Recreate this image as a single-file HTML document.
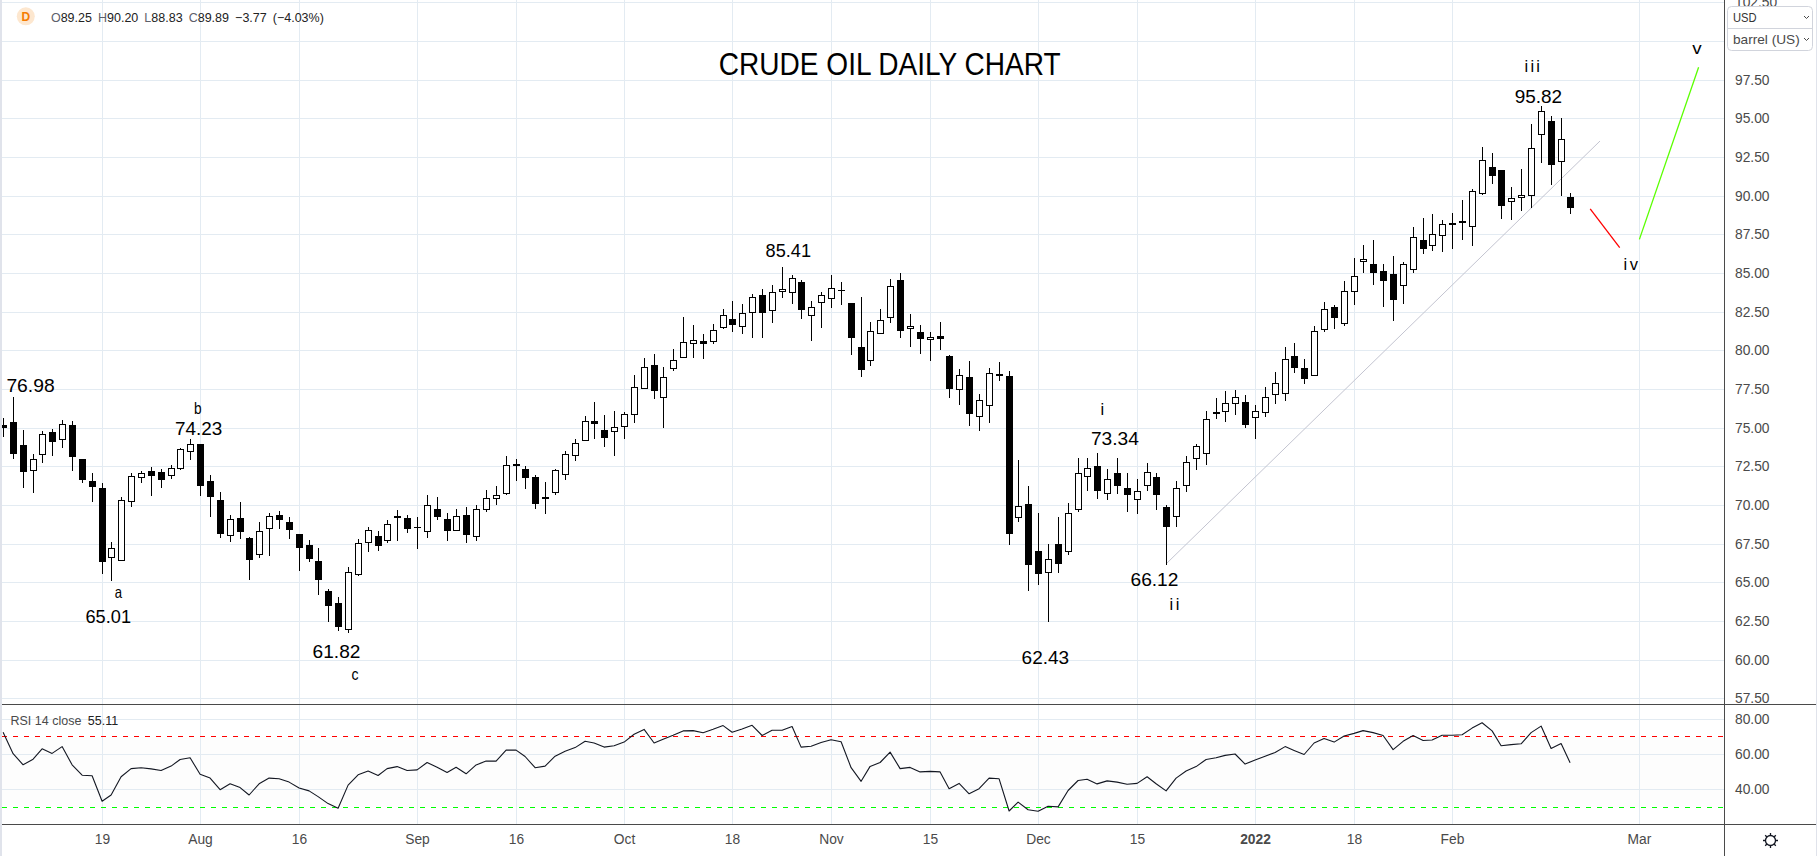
<!DOCTYPE html><html><head><meta charset="utf-8"><style>
html,body{margin:0;padding:0;background:#fff;width:1817px;height:856px;overflow:hidden}
svg{display:block;font-family:"Liberation Sans",sans-serif}
</style></head><body>
<svg width="1817" height="856" viewBox="0 0 1817 856">
<rect x="0" y="0" width="1817" height="856" fill="#fff"/>
<rect x="2" y="737" width="1722" height="70" fill="#fdfdfd"/>
<path d="M102.5 0V824 M200.5 0V824 M299.5 0V824 M417.5 0V824 M516.5 0V824 M624.5 0V824 M732.5 0V824 M831.5 0V824 M930.5 0V824 M1038.5 0V824 M1137.5 0V824 M1255.5 0V824 M1354.5 0V824 M1452.5 0V824 M1639.5 0V824 M2 698.5H1724 M2 660.5H1724 M2 621.5H1724 M2 582.5H1724 M2 544.5H1724 M2 505.5H1724 M2 466.5H1724 M2 428.5H1724 M2 389.5H1724 M2 350.5H1724 M2 312.5H1724 M2 273.5H1724 M2 234.5H1724 M2 196.5H1724 M2 157.5H1724 M2 118.5H1724 M2 80.5H1724 M2 41.5H1724 M2 2.5H1724 M2 719.5H1724 M2 754.5H1724 M2 789.5H1724" stroke="#e3ebf2" stroke-width="1" fill="none" shape-rendering="crispEdges"/>
<path d="M2 736.5H1724" stroke="#ff0000" stroke-width="1" stroke-dasharray="5,6" shape-rendering="crispEdges"/>
<path d="M2 807.5H1724" stroke="#00ff00" stroke-width="1" stroke-dasharray="5,6" shape-rendering="crispEdges"/>
<clipPath id="rc"><rect x="2" y="705" width="1722" height="119"/></clipPath>
<polyline clip-path="url(#rc)" points="3.1,732.2 13.1,753.7 23.1,764.8 33.1,759.2 42.1,748.8 52.1,753.4 62.1,746.6 72.1,764.8 82.1,775.2 92.1,775.7 102.1,801.3 111.1,795.0 121.1,776.8 131.1,768.6 141.1,767.7 151.1,768.9 161.1,770.5 171.1,766.1 180.1,759.5 190.1,757.8 200.1,774.3 210.1,778.1 220.1,789.7 230.1,783.8 240.1,787.6 249.1,795.0 259.1,783.8 269.1,778.1 279.1,778.8 289.1,782.1 299.1,788.0 309.1,790.9 318.1,796.6 328.1,803.6 338.1,808.2 348.1,785.1 358.1,774.8 368.1,771.0 378.1,775.5 387.1,768.6 397.1,766.6 407.1,770.5 417.1,769.9 427.1,762.5 437.1,767.2 447.1,772.4 456.1,767.2 466.1,773.8 476.1,764.9 486.1,761.1 496.1,761.1 506.1,750.1 516.1,750.1 525.1,756.5 535.1,767.7 545.1,766.1 555.1,756.2 565.1,751.2 575.1,747.6 585.1,741.3 594.1,743.0 604.1,747.1 614.1,745.8 624.1,742.1 634.1,734.2 644.1,729.4 654.1,743.0 663.1,739.2 673.1,735.2 683.1,730.9 693.1,730.6 703.1,732.7 713.1,729.3 723.1,725.6 732.1,732.2 742.1,728.9 752.1,725.3 762.1,735.5 772.1,730.3 782.1,730.3 792.1,726.5 801.1,747.1 811.1,746.3 821.1,742.5 831.1,739.7 841.1,741.7 851.1,767.7 861.1,781.3 870.1,766.4 880.1,762.5 890.1,752.1 900.1,768.6 910.1,767.4 920.1,771.9 930.1,771.4 940.1,771.9 949.1,788.7 959.1,783.4 969.1,793.8 979.1,788.7 989.1,778.1 999.1,778.8 1009.1,811.0 1018.1,802.1 1028.1,809.8 1038.1,811.2 1048.1,806.2 1058.1,806.9 1068.1,790.5 1078.1,780.5 1087.1,779.3 1097.1,783.9 1107.1,780.9 1117.1,782.1 1127.1,784.2 1137.1,783.4 1147.1,776.8 1156.1,783.8 1166.1,790.9 1176.1,778.1 1186.1,771.0 1196.1,766.6 1206.1,759.5 1216.1,757.8 1225.1,755.4 1235.1,754.0 1245.1,764.1 1255.1,760.0 1265.1,756.2 1275.1,752.5 1285.1,746.6 1294.1,750.4 1304.1,754.5 1314.1,743.0 1324.1,738.5 1334.1,742.1 1344.1,736.0 1354.1,733.4 1363.1,730.6 1373.1,732.6 1383.1,735.5 1393.1,749.6 1403.1,741.3 1413.1,735.5 1423.1,740.5 1432.1,740.0 1442.1,735.3 1452.1,735.2 1462.1,734.7 1472.1,728.1 1482.1,722.7 1492.1,730.9 1501.1,745.8 1511.1,744.6 1521.1,743.8 1531.1,732.6 1541.1,726.1 1551.1,748.4 1561.1,743.5 1570.1,762.8" fill="none" stroke="#131722" stroke-width="1.1" stroke-linejoin="round"/>
<clipPath id="mc"><rect x="2" y="0" width="1722" height="704"/></clipPath>
<line x1="1166" y1="564" x2="1600" y2="141" stroke="#c3c4d0" stroke-width="1"/>
<g clip-path="url(#mc)" shape-rendering="crispEdges">
<path d="M3.5 418V425 M3.5 428V437 M13.5 397V422 M13.5 454V459 M23.5 430V445 M23.5 472V488 M33.5 454V459 M33.5 471V493 M42.5 431V434 M42.5 455V463 M52.5 429V432 M52.5 442V456 M62.5 420V424 M62.5 440V448 M72.5 421V425 M72.5 457V471 M82.5 480V483 M92.5 473V481 M92.5 487V502 M102.5 483V488 M102.5 562V574 M111.5 542V548 M111.5 558V581 M121.5 497V500 M131.5 473V476 M131.5 502V507 M141.5 471V473 M141.5 478V483 M151.5 467V471 M151.5 476V496 M161.5 469V472 M161.5 480V488 M171.5 465V468 M171.5 476V479 M180.5 448V449 M180.5 469V470 M190.5 439V444 M190.5 452V460 M200.5 486V496 M210.5 475V481 M210.5 497V517 M220.5 492V500 M220.5 534V538 M230.5 515V519 M230.5 536V542 M240.5 502V518 M240.5 532V539 M249.5 537V538 M249.5 560V580 M259.5 522V531 M259.5 555V558 M269.5 513V516 M269.5 529V556 M279.5 511V515 M279.5 520V529 M289.5 517V522 M289.5 530V539 M299.5 548V571 M309.5 540V545 M309.5 559V562 M318.5 548V561 M318.5 580V595 M328.5 589V591 M328.5 606V622 M338.5 597V603 M338.5 627V631 M348.5 567V572 M348.5 630V633 M358.5 539V543 M358.5 575V576 M368.5 527V530 M368.5 543V552 M378.5 531V536 M378.5 546V551 M387.5 520V524 M387.5 541V543 M397.5 510V516 M397.5 518V541 M407.5 515V518 M407.5 529V533 M417.5 517V527 M417.5 528V549 M427.5 495V505 M427.5 532V538 M437.5 497V509 M437.5 517V520 M447.5 513V519 M447.5 531V541 M456.5 509V516 M466.5 507V515 M466.5 535V543 M476.5 505V509 M476.5 537V541 M486.5 490V498 M486.5 510V512 M496.5 486V495 M496.5 499V505 M506.5 456V465 M506.5 494V495 M516.5 459V464 M516.5 466V481 M525.5 466V469 M525.5 478V489 M535.5 475V477 M535.5 504V509 M545.5 482V497 M545.5 499V514 M555.5 469V470 M555.5 493V495 M565.5 451V454 M565.5 475V480 M575.5 439V443 M575.5 456V461 M585.5 416V421 M594.5 402V421 M594.5 424V439 M604.5 415V430 M604.5 438V447 M614.5 411V427 M614.5 432V456 M624.5 412V414 M624.5 427V439 M634.5 375V387 M634.5 415V423 M644.5 358V367 M654.5 354V365 M654.5 391V399 M663.5 367V377 M663.5 398V428 M673.5 349V360 M673.5 369V371 M683.5 317V342 M693.5 325V340 M693.5 344V358 M703.5 334V341 M703.5 344V359 M713.5 324V330 M713.5 342V344 M723.5 309V315 M723.5 328V329 M732.5 301V319 M732.5 325V332 M742.5 304V313 M742.5 327V334 M752.5 294V297 M752.5 313V338 M762.5 289V295 M762.5 313V338 M772.5 285V292 M772.5 311V323 M782.5 267V289 M782.5 292V298 M792.5 275V278 M792.5 293V304 M801.5 280V282 M801.5 310V319 M811.5 301V307 M811.5 316V341 M821.5 292V295 M821.5 303V328 M831.5 275V288 M831.5 299V308 M841.5 282V290 M841.5 291V305 M851.5 338V355 M861.5 297V347 M861.5 370V377 M870.5 322V331 M870.5 361V366 M880.5 309V320 M890.5 279V286 M890.5 318V323 M900.5 273V280 M900.5 331V338 M910.5 314V326 M910.5 329V347 M920.5 325V332 M920.5 339V354 M930.5 332V337 M930.5 340V361 M940.5 322V336 M940.5 339V350 M949.5 355V356 M949.5 389V398 M959.5 369V375 M959.5 390V405 M969.5 361V377 M969.5 414V426 M979.5 394V400 M979.5 417V431 M989.5 368V373 M989.5 406V423 M999.5 362V374 M999.5 376V381 M1009.5 371V376 M1009.5 534V545 M1018.5 460V506 M1018.5 518V522 M1028.5 486V504 M1028.5 565V591 M1038.5 513V551 M1038.5 574V585 M1048.5 544V559 M1048.5 573V622 M1058.5 517V544 M1058.5 564V573 M1068.5 503V513 M1068.5 552V555 M1078.5 458V473 M1078.5 510V512 M1087.5 458V468 M1087.5 477V491 M1097.5 453V466 M1097.5 491V499 M1107.5 469V479 M1107.5 494V500 M1117.5 458V473 M1117.5 486V494 M1127.5 473V488 M1127.5 495V512 M1137.5 479V491 M1137.5 500V514 M1147.5 463V472 M1147.5 486V491 M1156.5 473V477 M1156.5 495V510 M1166.5 505V507 M1166.5 527V565 M1176.5 481V488 M1176.5 517V527 M1186.5 456V462 M1186.5 486V492 M1196.5 444V446 M1196.5 459V470 M1206.5 411V419 M1206.5 454V465 M1216.5 398V412 M1216.5 414V419 M1225.5 391V403 M1225.5 412V422 M1235.5 390V397 M1235.5 404V415 M1245.5 395V402 M1245.5 425V428 M1255.5 405V411 M1255.5 418V439 M1265.5 387V397 M1265.5 413V417 M1275.5 372V383 M1275.5 395V404 M1285.5 347V359 M1285.5 394V401 M1294.5 343V356 M1294.5 368V373 M1304.5 359V368 M1304.5 379V384 M1314.5 326V331 M1324.5 302V309 M1324.5 330V332 M1334.5 305V307 M1334.5 318V329 M1344.5 281V291 M1344.5 324V326 M1354.5 258V276 M1354.5 292V305 M1363.5 245V259 M1363.5 262V273 M1373.5 240V264 M1373.5 273V285 M1383.5 264V271 M1383.5 281V307 M1393.5 256V274 M1393.5 300V321 M1403.5 262V264 M1403.5 286V304 M1413.5 227V237 M1413.5 270V273 M1423.5 218V240 M1423.5 249V254 M1432.5 214V234 M1432.5 246V251 M1442.5 220V224 M1442.5 236V252 M1452.5 213V223 M1452.5 225V249 M1462.5 200V221 M1462.5 223V240 M1472.5 189V191 M1472.5 227V246 M1482.5 147V160 M1482.5 194V195 M1492.5 153V167 M1492.5 176V184 M1501.5 206V219 M1511.5 187V198 M1511.5 202V220 M1521.5 169V195 M1521.5 198V211 M1531.5 124V148 M1531.5 196V208 M1541.5 106V111 M1541.5 135V163 M1551.5 116V121 M1551.5 165V185 M1561.5 118V139 M1561.5 162V196 M1570.5 193V197 M1570.5 208V214" stroke="#000" stroke-width="1" fill="none"/>
<path d="M0 425h7v3h-7z M10 422h7v32h-7z M20 445h7v27h-7z M49 432h7v10h-7z M69 425h7v32h-7z M79 459h7v21h-7z M89 481h7v6h-7z M99 488h7v74h-7z M148 471h7v5h-7z M158 472h7v8h-7z M197 444h7v42h-7z M207 481h7v16h-7z M217 500h7v34h-7z M237 518h7v14h-7z M246 538h7v22h-7z M276 515h7v5h-7z M286 522h7v8h-7z M296 534h7v14h-7z M306 545h7v14h-7z M315 561h7v19h-7z M325 591h7v15h-7z M335 603h7v24h-7z M375 536h7v10h-7z M394 516h7v2h-7z M404 518h7v11h-7z M414 527h7v1h-7z M434 509h7v8h-7z M444 519h7v12h-7z M463 515h7v20h-7z M513 464h7v2h-7z M522 469h7v9h-7z M532 477h7v27h-7z M542 497h7v2h-7z M591 421h7v3h-7z M601 430h7v8h-7z M651 365h7v26h-7z M700 341h7v3h-7z M729 319h7v6h-7z M759 295h7v18h-7z M798 282h7v28h-7z M838 290h7v1h-7z M848 303h7v35h-7z M858 347h7v23h-7z M897 280h7v51h-7z M917 332h7v7h-7z M937 336h7v3h-7z M946 356h7v33h-7z M966 377h7v37h-7z M996 374h7v2h-7z M1006 376h7v158h-7z M1025 504h7v61h-7z M1035 551h7v23h-7z M1055 544h7v20h-7z M1094 466h7v25h-7z M1114 473h7v13h-7z M1124 488h7v7h-7z M1153 477h7v18h-7z M1163 507h7v20h-7z M1213 412h7v2h-7z M1242 402h7v23h-7z M1291 356h7v12h-7z M1301 368h7v11h-7z M1331 307h7v11h-7z M1370 264h7v9h-7z M1380 271h7v10h-7z M1390 274h7v26h-7z M1420 240h7v9h-7z M1449 223h7v2h-7z M1459 221h7v2h-7z M1489 167h7v9h-7z M1498 170h7v36h-7z M1548 121h7v44h-7z M1567 197h7v11h-7z" fill="#000"/>
<path d="M30.5 459.5h6v11h-6z M39.5 434.5h6v20h-6z M59.5 424.5h6v15h-6z M108.5 548.5h6v9h-6z M118.5 500.5h6v60h-6z M128.5 476.5h6v25h-6z M138.5 473.5h6v4h-6z M168.5 468.5h6v7h-6z M177.5 449.5h6v19h-6z M187.5 444.5h6v7h-6z M227.5 519.5h6v16h-6z M256.5 531.5h6v23h-6z M266.5 516.5h6v12h-6z M345.5 572.5h6v57h-6z M355.5 543.5h6v31h-6z M365.5 530.5h6v12h-6z M384.5 524.5h6v16h-6z M424.5 505.5h6v26h-6z M453.5 516.5h6v14h-6z M473.5 509.5h6v27h-6z M483.5 498.5h6v11h-6z M493.5 495.5h6v3h-6z M503.5 465.5h6v28h-6z M552.5 470.5h6v22h-6z M562.5 454.5h6v20h-6z M572.5 443.5h6v12h-6z M582.5 421.5h6v19h-6z M611.5 427.5h6v4h-6z M621.5 414.5h6v12h-6z M631.5 387.5h6v27h-6z M641.5 367.5h6v21h-6z M660.5 377.5h6v20h-6z M670.5 360.5h6v8h-6z M680.5 342.5h6v15h-6z M690.5 340.5h6v3h-6z M710.5 330.5h6v11h-6z M720.5 315.5h6v12h-6z M739.5 313.5h6v13h-6z M749.5 297.5h6v15h-6z M769.5 292.5h6v18h-6z M779.5 289.5h6v2h-6z M789.5 278.5h6v14h-6z M808.5 307.5h6v8h-6z M818.5 295.5h6v7h-6z M828.5 288.5h6v10h-6z M867.5 331.5h6v29h-6z M877.5 320.5h6v13h-6z M887.5 286.5h6v31h-6z M907.5 326.5h6v2h-6z M927.5 337.5h6v2h-6z M956.5 375.5h6v14h-6z M976.5 400.5h6v16h-6z M986.5 373.5h6v32h-6z M1015.5 506.5h6v11h-6z M1045.5 559.5h6v13h-6z M1065.5 513.5h6v38h-6z M1075.5 473.5h6v36h-6z M1084.5 468.5h6v8h-6z M1104.5 479.5h6v14h-6z M1134.5 491.5h6v8h-6z M1144.5 472.5h6v13h-6z M1173.5 488.5h6v28h-6z M1183.5 462.5h6v23h-6z M1193.5 446.5h6v12h-6z M1203.5 419.5h6v34h-6z M1222.5 403.5h6v8h-6z M1232.5 397.5h6v6h-6z M1252.5 411.5h6v6h-6z M1262.5 397.5h6v15h-6z M1272.5 383.5h6v11h-6z M1282.5 359.5h6v34h-6z M1311.5 331.5h6v44h-6z M1321.5 309.5h6v20h-6z M1341.5 291.5h6v32h-6z M1351.5 276.5h6v15h-6z M1360.5 259.5h6v2h-6z M1400.5 264.5h6v21h-6z M1410.5 237.5h6v32h-6z M1429.5 234.5h6v11h-6z M1439.5 224.5h6v11h-6z M1469.5 191.5h6v35h-6z M1479.5 160.5h6v33h-6z M1508.5 198.5h6v3h-6z M1518.5 195.5h6v2h-6z M1528.5 148.5h6v47h-6z M1538.5 111.5h6v23h-6z M1558.5 139.5h6v22h-6z" fill="#fff" stroke="#000" stroke-width="1"/>
</g>
<g clip-path="url(#mc)">
<line x1="1590.2" y1="208.9" x2="1619.7" y2="247.6" stroke="#ff0000" stroke-width="1.3"/>
<line x1="1639.4" y1="239.4" x2="1698.6" y2="67.3" stroke="#5aff00" stroke-width="1.3"/>
</g>
<path d="M0 704.5H1817 M0 824.5H1817 M1724.5 0V856" stroke="#4a4a4a" stroke-width="1" shape-rendering="crispEdges"/>
<rect x="0" y="0" width="2" height="856" fill="#e0e3eb"/>
<rect x="1816" y="0" width="1" height="856" fill="#e0e3eb"/>
<text x="718.8" y="75.0" font-size="32" fill="#000" font-weight="normal" textLength="341.9" lengthAdjust="spacingAndGlyphs">CRUDE OIL DAILY CHART</text>
<text x="6.4" y="392.0" font-size="19" fill="#000" font-weight="normal" textLength="48.3" lengthAdjust="spacingAndGlyphs">76.98</text>
<text x="193.9" y="414.0" font-size="16.5" fill="#000" font-weight="normal" textLength="7.6" lengthAdjust="spacingAndGlyphs">b</text>
<text x="174.9" y="435.0" font-size="19" fill="#000" font-weight="normal" textLength="47.3" lengthAdjust="spacingAndGlyphs">74.23</text>
<text x="114.7" y="597.8" font-size="16.5" fill="#000" font-weight="normal" textLength="7.3" lengthAdjust="spacingAndGlyphs">a</text>
<text x="85.5" y="622.9" font-size="19" fill="#000" font-weight="normal" textLength="45.5" lengthAdjust="spacingAndGlyphs">65.01</text>
<text x="312.6" y="657.8" font-size="19" fill="#000" font-weight="normal" textLength="47.8" lengthAdjust="spacingAndGlyphs">61.82</text>
<text x="351.4" y="679.8" font-size="16.5" fill="#000" font-weight="normal" textLength="7.0" lengthAdjust="spacingAndGlyphs">c</text>
<text x="765.6" y="256.8" font-size="19" fill="#000" font-weight="normal" textLength="45.4" lengthAdjust="spacingAndGlyphs">85.41</text>
<text x="1100.6" y="414.9" font-size="16.5" fill="#000" font-weight="normal" textLength="3.8" lengthAdjust="spacing">i</text>
<text x="1090.9" y="444.8" font-size="19" fill="#000" font-weight="normal" textLength="47.9" lengthAdjust="spacingAndGlyphs">73.34</text>
<text x="1130.5" y="585.7" font-size="19" fill="#000" font-weight="normal" textLength="47.9" lengthAdjust="spacingAndGlyphs">66.12</text>
<text x="1169.6" y="609.8" font-size="16.5" fill="#000" font-weight="normal" textLength="9.7" lengthAdjust="spacing">ii</text>
<text x="1021.6" y="664.0" font-size="19" fill="#000" font-weight="normal" textLength="47.5" lengthAdjust="spacingAndGlyphs">62.43</text>
<text x="1524.5" y="71.9" font-size="16.5" fill="#000" font-weight="normal" textLength="15.5" lengthAdjust="spacing">iii</text>
<text x="1514.7" y="102.6" font-size="19" fill="#000" font-weight="normal" textLength="47.4" lengthAdjust="spacingAndGlyphs">95.82</text>
<text x="1623.6" y="269.9" font-size="16.5" fill="#000" font-weight="normal" textLength="14.4" lengthAdjust="spacing">iv</text>
<text x="1692.2" y="53.8" font-size="16.5" fill="#000" font-weight="normal" textLength="9.4" lengthAdjust="spacingAndGlyphs">v</text>
<text x="1735" y="703" font-size="13.8" fill="#4a4a4a">57.50</text>
<text x="1735" y="665" font-size="13.8" fill="#4a4a4a">60.00</text>
<text x="1735" y="626" font-size="13.8" fill="#4a4a4a">62.50</text>
<text x="1735" y="587" font-size="13.8" fill="#4a4a4a">65.00</text>
<text x="1735" y="549" font-size="13.8" fill="#4a4a4a">67.50</text>
<text x="1735" y="510" font-size="13.8" fill="#4a4a4a">70.00</text>
<text x="1735" y="471" font-size="13.8" fill="#4a4a4a">72.50</text>
<text x="1735" y="433" font-size="13.8" fill="#4a4a4a">75.00</text>
<text x="1735" y="394" font-size="13.8" fill="#4a4a4a">77.50</text>
<text x="1735" y="355" font-size="13.8" fill="#4a4a4a">80.00</text>
<text x="1735" y="317" font-size="13.8" fill="#4a4a4a">82.50</text>
<text x="1735" y="278" font-size="13.8" fill="#4a4a4a">85.00</text>
<text x="1735" y="239" font-size="13.8" fill="#4a4a4a">87.50</text>
<text x="1735" y="201" font-size="13.8" fill="#4a4a4a">90.00</text>
<text x="1735" y="162" font-size="13.8" fill="#4a4a4a">92.50</text>
<text x="1735" y="123" font-size="13.8" fill="#4a4a4a">95.00</text>
<text x="1735" y="85" font-size="13.8" fill="#4a4a4a">97.50</text>
<text x="1735" y="46" font-size="13.8" fill="#4a4a4a">100.00</text>
<text x="1735" y="7" font-size="13.8" fill="#4a4a4a">102.50</text>
<text x="1735" y="794" font-size="13.8" fill="#4a4a4a">40.00</text>
<text x="1735" y="759" font-size="13.8" fill="#4a4a4a">60.00</text>
<text x="1735" y="724" font-size="13.8" fill="#4a4a4a">80.00</text>
<text x="102.5" y="844" font-size="13.8" fill="#4a4a4a" text-anchor="middle" font-weight="normal">19</text>
<text x="200.5" y="844" font-size="13.8" fill="#4a4a4a" text-anchor="middle" font-weight="normal">Aug</text>
<text x="299.5" y="844" font-size="13.8" fill="#4a4a4a" text-anchor="middle" font-weight="normal">16</text>
<text x="417.5" y="844" font-size="13.8" fill="#4a4a4a" text-anchor="middle" font-weight="normal">Sep</text>
<text x="516.5" y="844" font-size="13.8" fill="#4a4a4a" text-anchor="middle" font-weight="normal">16</text>
<text x="624.5" y="844" font-size="13.8" fill="#4a4a4a" text-anchor="middle" font-weight="normal">Oct</text>
<text x="732.5" y="844" font-size="13.8" fill="#4a4a4a" text-anchor="middle" font-weight="normal">18</text>
<text x="831.5" y="844" font-size="13.8" fill="#4a4a4a" text-anchor="middle" font-weight="normal">Nov</text>
<text x="930.5" y="844" font-size="13.8" fill="#4a4a4a" text-anchor="middle" font-weight="normal">15</text>
<text x="1038.5" y="844" font-size="13.8" fill="#4a4a4a" text-anchor="middle" font-weight="normal">Dec</text>
<text x="1137.5" y="844" font-size="13.8" fill="#4a4a4a" text-anchor="middle" font-weight="normal">15</text>
<text x="1255.5" y="844" font-size="13.8" fill="#4a4a4a" text-anchor="middle" font-weight="bold">2022</text>
<text x="1354.5" y="844" font-size="13.8" fill="#4a4a4a" text-anchor="middle" font-weight="normal">18</text>
<text x="1452.5" y="844" font-size="13.8" fill="#4a4a4a" text-anchor="middle" font-weight="normal">Feb</text>
<text x="1639.5" y="844" font-size="13.8" fill="#4a4a4a" text-anchor="middle" font-weight="normal">Mar</text>
<circle cx="25.8" cy="16.3" r="9" fill="#fde7cf"/>
<text x="25.8" y="21" font-size="12" font-weight="bold" fill="#f57c00" text-anchor="middle">D</text>
<text x="50.9" y="21.9" font-size="12.5" fill="#5d606b" word-spacing="2.6">O<tspan fill="#222">89.25</tspan> H<tspan fill="#222">90.20</tspan> L<tspan fill="#222">88.83</tspan> C<tspan fill="#222">89.89</tspan> <tspan fill="#222">−3.77 (−4.03%)</tspan></text>
<text x="10.5" y="725" font-size="12.5" fill="#4a4a4a">RSI 14 close <tspan fill="#222" dx="3">55.11</tspan></text>
<rect x="1727.5" y="6.5" width="85" height="44" rx="4" fill="#fff" stroke="#d1d4dc"/>
<path d="M1728 28.5H1812" stroke="#d1d4dc" shape-rendering="crispEdges"/>
<text x="1733" y="21.7" font-size="13" fill="#333" textLength="23.6" lengthAdjust="spacingAndGlyphs">USD</text>
<text x="1733" y="43.8" font-size="13" fill="#4a4a4a" textLength="66.7" lengthAdjust="spacingAndGlyphs">barrel (US)</text>
<path d="M1804 16l2.5 2.5 2.5-2.5 M1804 38l2.5 2.5 2.5-2.5" stroke="#4a4a4a" stroke-width="1" fill="none"/>
<circle cx="1770.5" cy="840.5" r="5" fill="none" stroke="#131722" stroke-width="1.3"/>
<path d="M1775.50 840.50L1778.00 840.50 M1774.04 844.04L1775.80 845.80 M1770.50 845.50L1770.50 848.00 M1766.96 844.04L1765.20 845.80 M1765.50 840.50L1763.00 840.50 M1766.96 836.96L1765.20 835.20 M1770.50 835.50L1770.50 833.00 M1774.04 836.96L1775.80 835.20" stroke="#131722" stroke-width="1.3"/>
</svg></body></html>
